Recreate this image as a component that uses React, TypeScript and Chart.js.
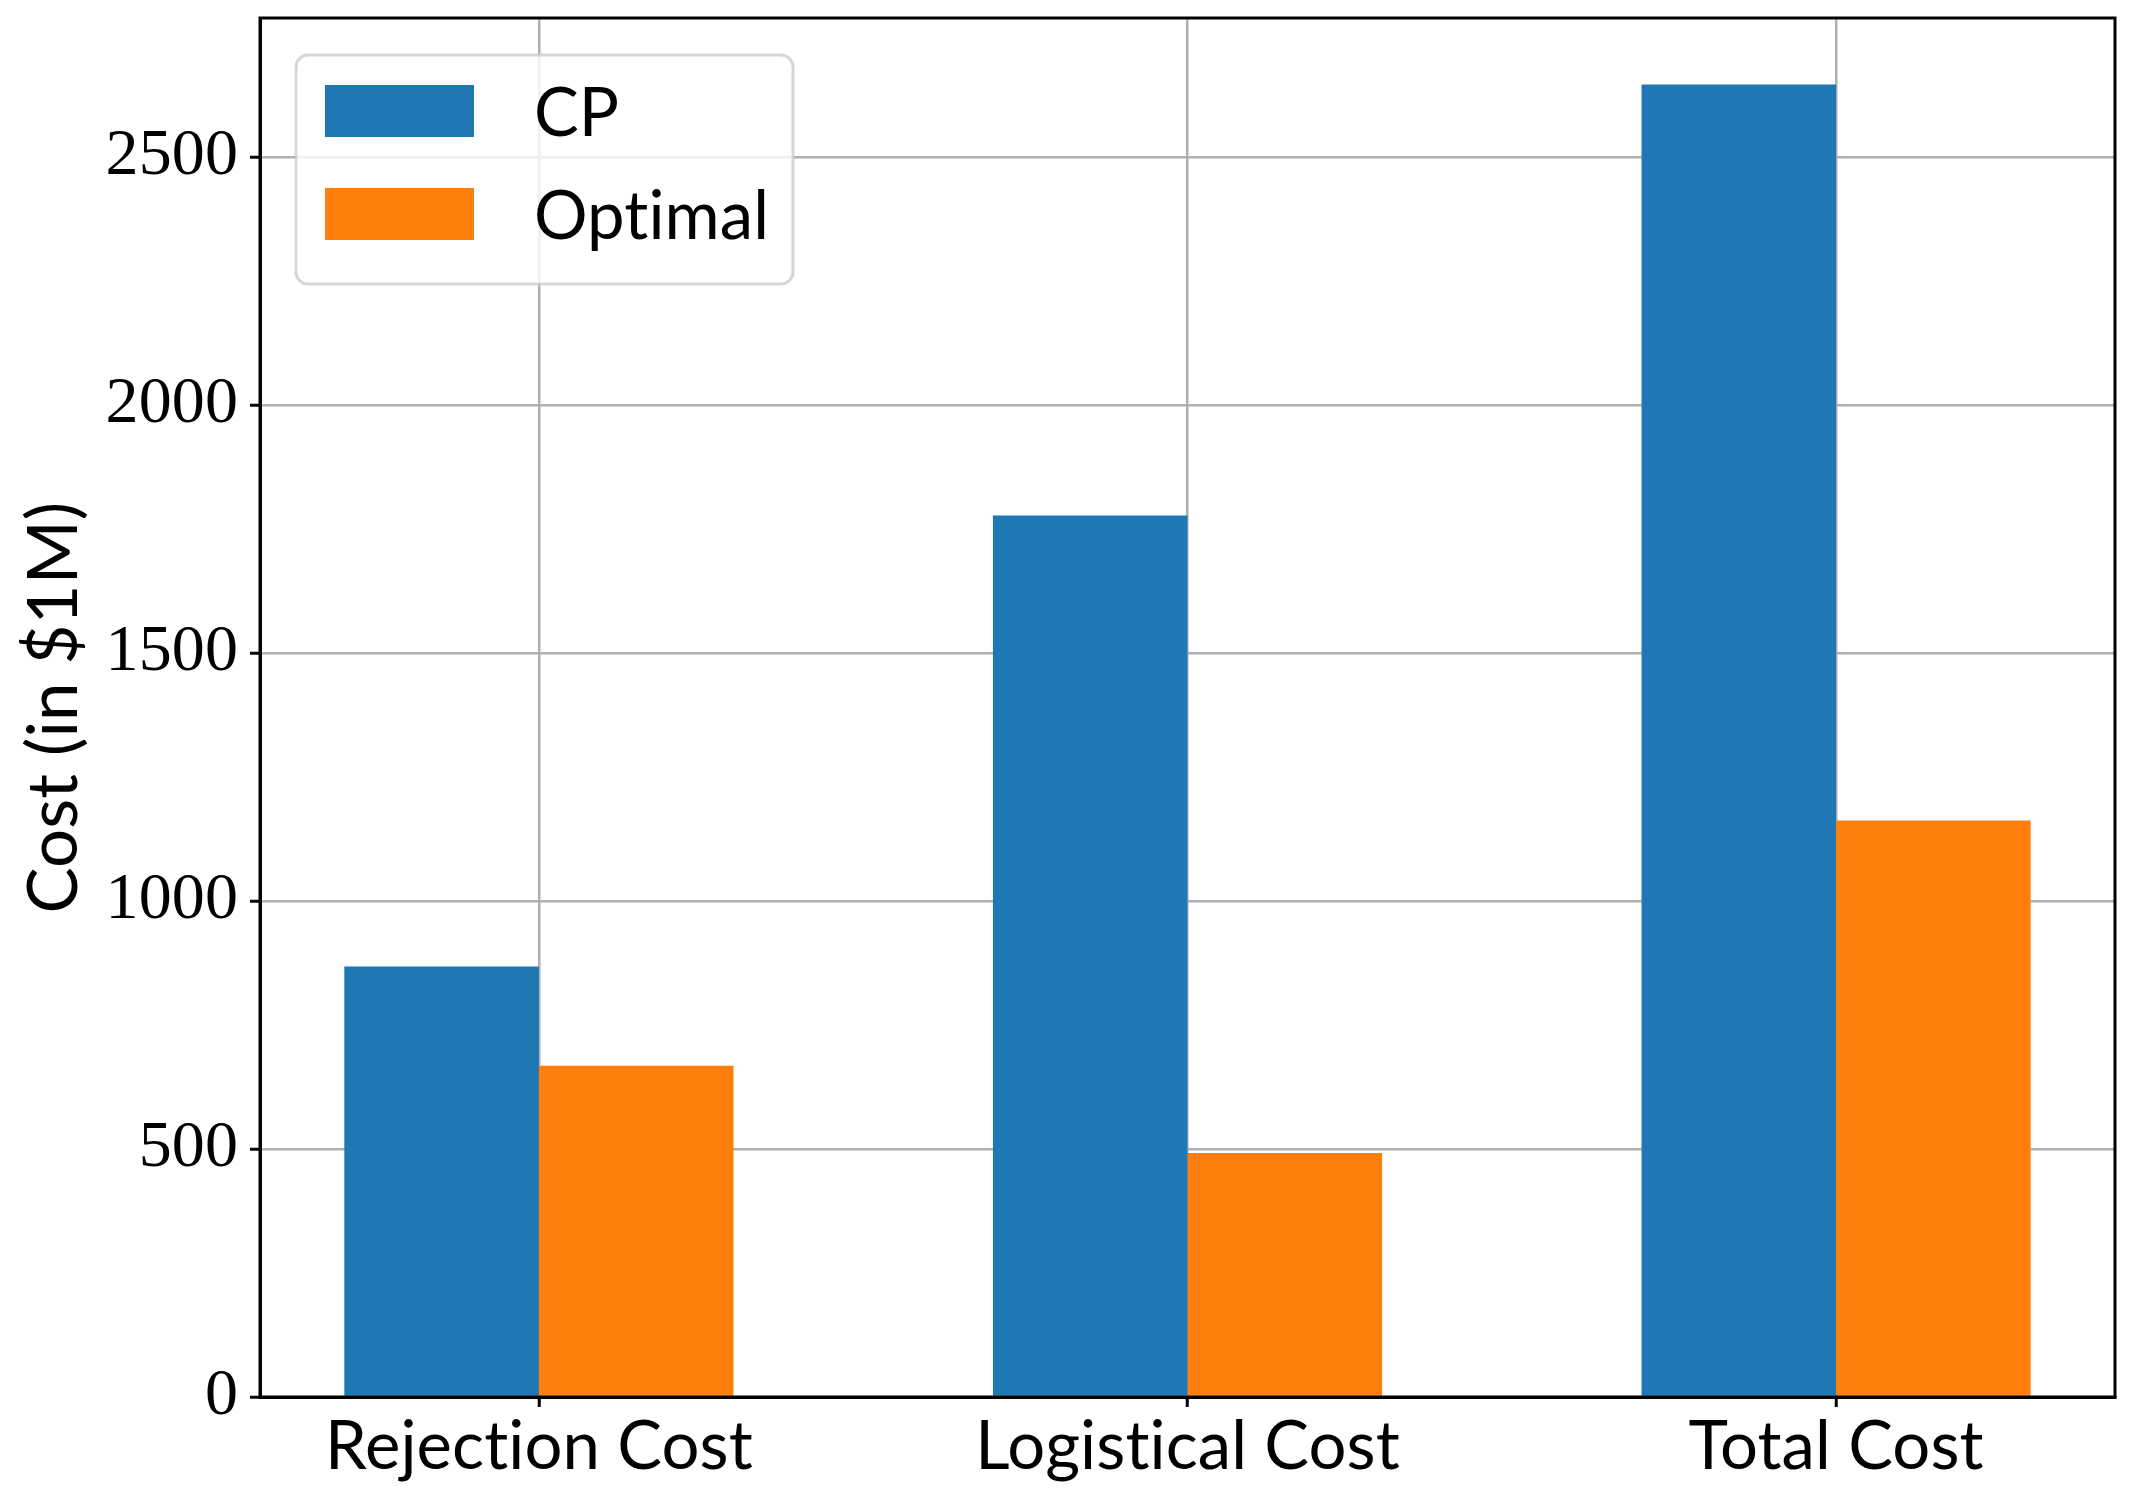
import React, { useEffect, useRef } from "react";
import { Chart, registerables } from "chart.js";

Chart.register(...registerables);

// ---- data ----
const CATEGORIES = ["Rejection Cost", "Logistical Cost", "Total Cost"];
const SERIES_LABELS = ["CP", "Optimal"];
const CP_VALUES = [868, 1777, 2646];
const OPTIMAL_VALUES = [668, 492, 1162];
const Y_TICKS = [0, 500, 1000, 1500, 2000, 2500];
const X_TICKS = [0, 1, 2];
const Y_MAX = 2780;
const X_MIN = -0.43;
const X_MAX = 2.43;
const Y_TITLE = "Cost (in $1M)";

const COLORS = ["#1f77b4", "#ff7f0e"];
const SANS = "Lato";
const SERIF = "'Liberation Serif'";

const noLigaturePlugin = {
  id: "noLigature",
  beforeDraw(chart: any) {
    (chart.ctx as any).letterSpacing = "0.1px";
  },
};

const frameLegendPlugin = {
  id: "frameLegend",
  afterDraw(chart: any) {
    const { ctx, chartArea } = chart;
    const { left, top, right, bottom } = chartArea;
    ctx.save();
    // axes frame
    ctx.strokeStyle = "#000";
    ctx.lineWidth = 3;
    ctx.strokeRect(left, top, right - left, bottom - top);

    // legend
    const fx = left + 36;
    const fy = top + 37;
    const fw = 497;
    const fh = 229;
    ctx.beginPath();
    (ctx as any).roundRect(fx, fy, fw, fh, 12);
    ctx.fillStyle = "rgba(255,255,255,0.8)";
    ctx.fill();
    ctx.lineWidth = 3;
    ctx.strokeStyle = "rgba(204,204,204,0.8)";
    ctx.stroke();

    const fontSize = 67;
    ctx.font = `${fontSize}px ${SANS}`;
    ctx.textAlign = "left";
    ctx.textBaseline = "alphabetic";
    chart.data.datasets.forEach((ds: any, i: number) => {
      const py = fy + 30 + i * 103;
      ctx.fillStyle = ds.backgroundColor;
      ctx.fillRect(fx + 29, py, 149, 52);
      ctx.fillStyle = "#000";
      ctx.fillText(ds.label, fx + 238, py + 26 + 70 * 0.36);
    });
    ctx.restore();
  },
};

export default function App() {
  const ref = useRef<HTMLCanvasElement>(null);

  useEffect(() => {
    if (!ref.current) return;
    const chart = new Chart(ref.current, {
      type: "bar",
      data: {
        datasets: [
          {
            label: SERIES_LABELS[0],
            data: CATEGORIES.map((_, i) => ({ x: i, y: CP_VALUES[i] })),
            backgroundColor: COLORS[0],
            borderWidth: 0,
            categoryPercentage: 0.6,
            barPercentage: 1,
          },
          {
            label: SERIES_LABELS[1],
            data: CATEGORIES.map((_, i) => ({ x: i, y: OPTIMAL_VALUES[i] })),
            backgroundColor: COLORS[1],
            borderWidth: 0,
            categoryPercentage: 0.6,
            barPercentage: 1,
          },
        ],
      } as any,
      options: {
        responsive: false,
        animation: false,
        devicePixelRatio: 1,
        layout: { padding: { top: 18, right: 20, left: 0, bottom: 0 } },
        plugins: {
          legend: { display: false },
          tooltip: { enabled: false },
        },
        scales: {
          x: {
            type: "linear",
            min: X_MIN,
            max: X_MAX,
            offset: false,
            z: 1,
            afterBuildTicks: (s: any) => {
              s.ticks = X_TICKS.map((v) => ({ value: v }));
            },
            afterFit: (s: any) => {
              s.height = 97;
              s.paddingLeft = 0;
              s.paddingRight = 0;
            },
            grid: {
              offset: false,
              color: "#b0b0b0",
              lineWidth: 2.5,
              drawTicks: true,
              tickLength: 10,
              tickColor: "#000",
              tickWidth: 3,
            },
            border: { display: true, color: "#000", width: 3 },
            ticks: {
              callback: (v: any) => CATEGORIES[v as number],
              font: { family: SANS, size: 67 },
              color: "#000",
              padding: 0,
              maxRotation: 0,
              autoSkip: false,
            },
          },
          y: {
            type: "linear",
            min: 0,
            max: Y_MAX,
            z: 1,
            afterBuildTicks: (s: any) => {
              s.ticks = Y_TICKS.map((v) => ({ value: v }));
            },
            afterFit: (s: any) => {
              s.width = 260;
              s.paddingTop = 0;
              s.paddingBottom = 0;
            },
            grid: {
              color: "#b0b0b0",
              lineWidth: 2.5,
              drawTicks: true,
              tickLength: 10,
              tickColor: "#000",
              tickWidth: 3,
            },
            border: { display: true, color: "#000", width: 3 },
            ticks: {
              callback: (v: any) => String(v),
              font: { family: SERIF, size: 66 },
              color: "#000",
              padding: 12,
            },
            title: {
              display: true,
              text: Y_TITLE,
              font: { family: SANS, size: 69 },
              color: "#000",
              padding: { top: 13, bottom: 0 },
            },
          },
        },
      } as any,
      plugins: [noLigaturePlugin, frameLegendPlugin],
    });
    return () => chart.destroy();
  }, []);

  return (
    <div
      style={{
        position: "absolute",
        left: 0,
        top: 0,
        width: 2135,
        height: 1494,
        background: "#fff",
      }}
    >
      <canvas
        ref={ref}
        width={2135}
        height={1494}
        style={{ display: "block", width: 2135, height: 1494 }}
      />
    </div>
  );
}
